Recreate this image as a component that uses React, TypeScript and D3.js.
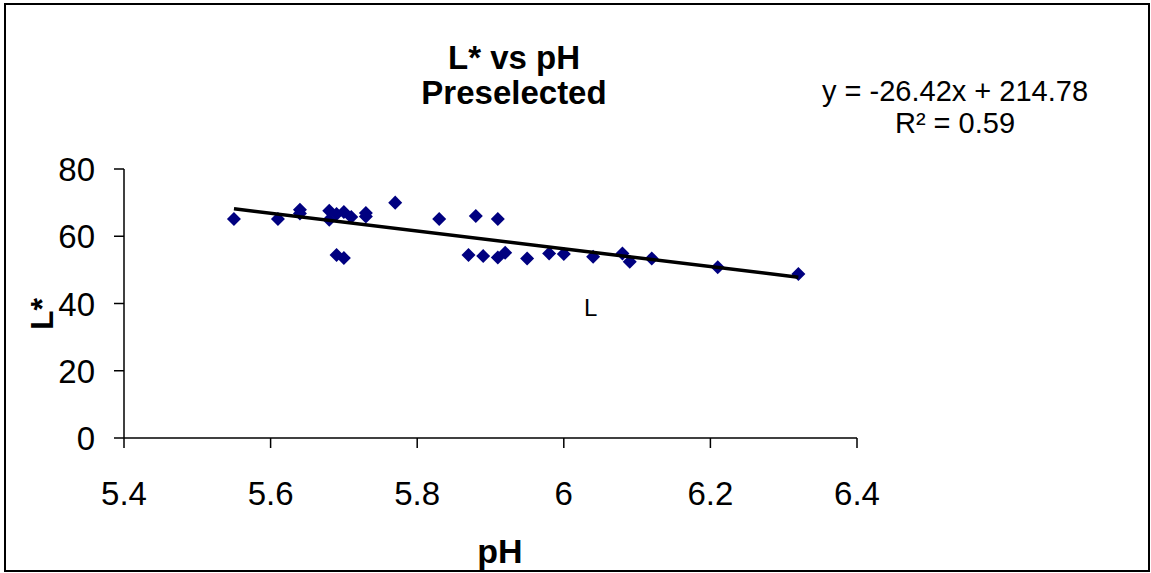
import React from "react";
import * as d3 from "d3";

const phValues = [5.55, 5.61, 5.64, 5.64, 5.68, 5.68, 5.69, 5.70, 5.71, 5.73, 5.73, 5.77, 5.83, 5.88, 5.91,
  5.69, 5.70, 5.87, 5.89, 5.91, 5.92, 5.95, 5.98, 6.00, 6.04, 6.08, 6.09, 6.12, 6.21, 6.32];
const lValues = [65.1, 65.1, 67.9, 66.8, 67.6, 64.9, 66.6, 67.2, 65.7, 66.9, 65.9, 70.0, 65.1, 66.0, 65.1,
  54.4, 53.5, 54.4, 54.1, 53.7, 55.1, 53.4, 54.9, 54.7, 53.9, 54.9, 52.4, 53.4, 50.8, 48.8];
const xTicks = [5.4, 5.6, 5.8, 6.0, 6.2, 6.4];
const yTicks = [0, 20, 40, 60, 80];
const trendSlope = -26.42;
const trendIntercept = 214.78;
const titleLines = ["L* vs pH", "Preselected"];
const equationLines = ["y = -26.42x + 214.78", "R² = 0.59"];

const FONT = "Liberation Sans, Arial, sans-serif";

export default function App() {
  const x = d3.scaleLinear().domain([5.4, 6.4]).range([124, 857]);
  const y = d3.scaleLinear().domain([0, 80]).range([438, 169]);
  const diamond = d3.symbol().type(d3.symbolDiamond2).size(125)();
  const xMin = d3.min(phValues) as number;
  const xMax = d3.max(phValues) as number;
  const trend = d3.line<number>()
    .x((d) => x(d))
    .y((d) => y(trendSlope * d + trendIntercept))([xMin, xMax]);

  return (
    <svg width={1151} height={573} style={{ position: "absolute", left: 0, top: 0, background: "#fff" }}
      fontFamily={FONT}>
      <rect x={5} y={4} width={1144} height={567} fill="#fff" stroke="#000" strokeWidth={2} />
      {titleLines.map((t, i) => (
        <text key={t} x={514} y={69 + i * 35} textAnchor="middle" fontSize={33} fontWeight="bold">{t}</text>
      ))}
      {equationLines.map((t, i) => (
        <text key={t} x={955} y={101 + i * 32} textAnchor="middle" fontSize={29}>{t}</text>
      ))}
      {/* axes */}
      <line x1={x(5.4)} x2={x(6.4)} y1={y(0)} y2={y(0)} stroke="#000" strokeWidth={1.5} />
      <line x1={x(5.4)} x2={x(5.4)} y1={y(0)} y2={y(80)} stroke="#000" strokeWidth={1.5} />
      {xTicks.map((t) => (
        <g key={t}>
          <line x1={x(t)} x2={x(t)} y1={y(0)} y2={y(0) + 10} stroke="#000" strokeWidth={1.5} />
          <text x={x(t)} y={505} textAnchor="middle" fontSize={33}>{d3.format("~g")(t)}</text>
        </g>
      ))}
      {yTicks.map((t) => (
        <g key={t}>
          <line x1={x(5.4) - 10} x2={x(5.4)} y1={y(t)} y2={y(t)} stroke="#000" strokeWidth={1.5} />
          <text x={95} y={y(t) + 12} textAnchor="end" fontSize={33}>{t}</text>
        </g>
      ))}
      <text x={500} y={563} textAnchor="middle" fontSize={34} fontWeight="bold">pH</text>
      <text transform="translate(53,314) rotate(-90)" textAnchor="middle" fontSize={32} fontWeight="bold">L*</text>
      {phValues.map((p, i) => (
        <path key={i} d={diamond as string} transform={`translate(${x(p)},${y(lValues[i])})`} fill="#000080" />
      ))}
      <path d={trend as string} fill="none" stroke="#000" strokeWidth={3.5} />
      <text x={584} y={316} fontSize={24}>L</text>
    </svg>
  );
}
